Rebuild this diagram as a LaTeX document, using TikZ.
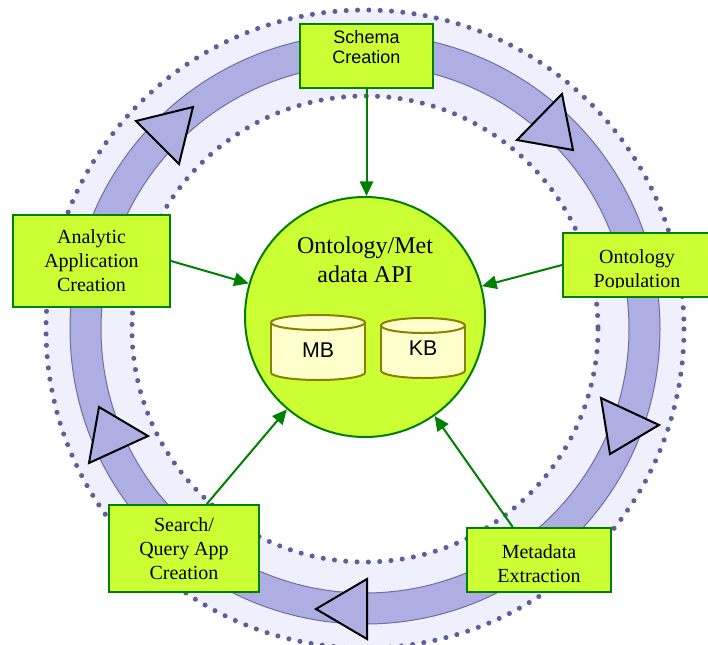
\documentclass[tikz,border=0pt]{standalone}
\usepackage{fontspec}
\setmainfont{Liberation Serif}
\newfontfamily\arialfont{Liberation Sans}
\usetikzlibrary{positioning,arrows.meta,calc}

\definecolor{boxfill}{RGB}{204,255,51}
\definecolor{darkgreen}{RGB}{0,128,0}
\definecolor{bandfill}{RGB}{174,174,227}
\definecolor{bandline}{RGB}{109,109,168}
\definecolor{ringfill}{RGB}{240,240,253}
\definecolor{dotcol}{RGB}{94,94,154}
\definecolor{cylfill}{RGB}{255,255,204}
\definecolor{cylline}{RGB}{139,128,0}

\begin{document}
\begin{tikzpicture}[x=0.75pt,y=-0.75pt,
  procbox/.style={draw=darkgreen,line width=1.5pt,fill=boxfill,align=center,inner sep=0pt},
  boxtext/.style={align=center,font=\fontsize{15}{18}\selectfont},
  feed/.style={draw=darkgreen,line width=1.5pt,-{Triangle[length=11pt,width=10pt]}},
  turn/.style={draw=black,line width=1.5pt,fill=bandfill},
  dots/.style={draw=dotcol,line width=3.8pt,line cap=round,dash pattern=on 0pt off 8.5pt},
  cyl/.style={draw=cylline,line width=1.5pt,fill=cylfill}]
  \useasboundingbox (0,0) rectangle (708,644);

  % the cycle ring
  \fill[ringfill,even odd rule] (365,329) circle (319) (365,329) circle (233);
  \draw[dots] (365,329) circle (319);
  \draw[dots] (365,329) circle (233);
  \draw[draw=bandline,line width=0.75pt,fill=bandfill,even odd rule] (365,329) circle (295) (365,329) circle (264);

  % direction marks, clockwise
  \draw[turn] (193,107) -- (136,121) -- (179,164) -- cycle;
  \draw[turn] (573,150) -- (562,94) -- (517,140) -- cycle;
  \draw[turn] (610,454) -- (601,398) -- (659,425) -- cycle;
  \draw[turn] (316,609) -- (367,579) -- (367,639) -- cycle;
  \draw[turn] (99,407) -- (89,463) -- (148,436) -- cycle;

  % central store
  \node[circle,draw=darkgreen,line width=1.5pt,fill=boxfill,minimum size=180pt,inner sep=0pt] (api) at (365,317) {};
  \node[font=\fontsize{18}{21.5}\selectfont,align=center] (apititle) at (365,260) {Ontology/Met\\adata API};
  \foreach \cx/\rx/\ytop/\ybot/\lab in {318/47/322.5/372.5/MB, 423/42/325.5/370.5/KB} {
    \draw[cyl] (\cx,\ybot) ellipse [x radius=\rx, y radius=7.5];
    \fill[cylfill] (\cx-\rx,\ytop) rectangle (\cx+\rx,\ybot);
    \draw[draw=cylline,line width=1.5pt] (\cx-\rx,\ytop) -- (\cx-\rx,\ybot) (\cx+\rx,\ytop) -- (\cx+\rx,\ybot);
    \draw[cyl] (\cx,\ytop) ellipse [x radius=\rx, y radius=7.5];
    \node[font=\arialfont\fontsize{16}{18}\selectfont] (\lab) at (\cx,\ybot-22) {\lab};
  }

  % steps of the cycle
  \node[procbox,minimum width=100pt,minimum height=48pt] (schema) at (366.5,56) {};
  \node[font=\arialfont\fontsize{13.5}{15.5}\selectfont,align=center] (schematext) at (366.5,47) {Schema\\Creation};
  \node[procbox,boxtext,minimum width=117.75pt,minimum height=69pt] (analytic) at (91.5,261) {Analytic\\Application\\Creation};
  \node[procbox,boxtext,minimum width=112.5pt,minimum height=65.25pt] (search) at (184,548.5) {Search/\\Query App\\Creation};
  \node[procbox,minimum width=111.75pt,minimum height=48pt] (population) at (637.5,265) {};
  \begin{scope}
    \clip (564,234) rectangle (708,287);
    \node[boxtext] (poptext) at (637,271) {Ontology\\Population};
  \end{scope}
  \node[procbox,minimum width=108pt,minimum height=48pt] (metadata) at (539,560) {};
  \begin{scope}
    \clip (468,529) rectangle (610,583);
    \node[boxtext] (metatext) at (539,564) {Metadata\\Extraction};
  \end{scope}

  % feeds into the API
  \draw[feed] (schema.south) -- (schema.south |- api.north);
  \draw[feed] (analytic.east) -- (api);
  \draw[feed] (population.west) -- (api);
  \draw[feed] ($(search.north west)!0.65!(search.north east)$) -- (api);
  \draw[feed] ($(metadata.north west)!0.32!(metadata.north east)$) -- (api);
\end{tikzpicture}
\end{document}
